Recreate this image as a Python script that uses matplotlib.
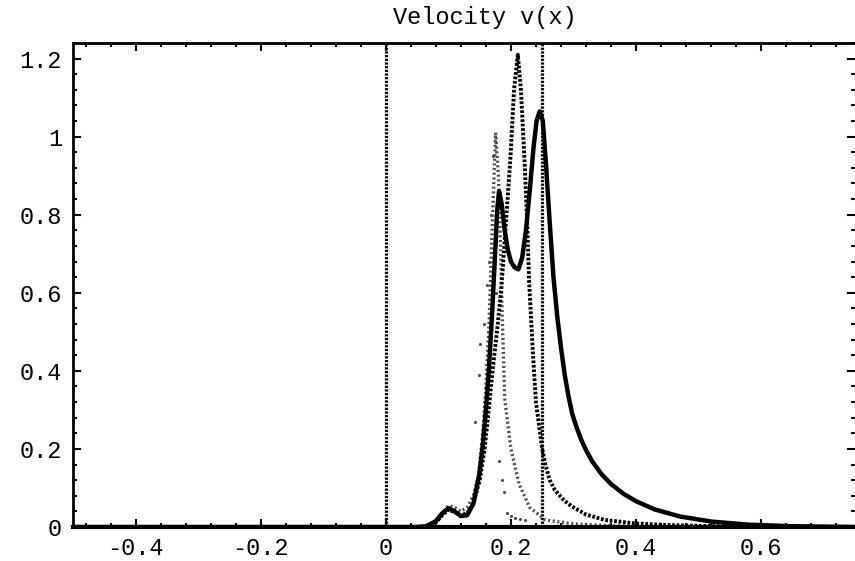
import numpy as np
import matplotlib
matplotlib.use("Agg")
import matplotlib.pyplot as plt
from matplotlib.ticker import MultipleLocator

matplotlib.rc('font', family='Liberation Mono', size=17)

# thick solid curve
x_thick = [-0.5, 0.0, 0.05, 0.065, 0.08, 0.09, 0.1, 0.11, 0.12, 0.13, 0.14, 0.15,
           0.155, 0.16, 0.165, 0.17, 0.175, 0.178, 0.181, 0.185, 0.19, 0.195, 0.2,
           0.206, 0.212, 0.218, 0.224, 0.23, 0.236, 0.241, 0.246, 0.251, 0.256,
           0.262, 0.268, 0.274, 0.28, 0.286, 0.292, 0.298, 0.305, 0.312, 0.32,
           0.33, 0.345, 0.36, 0.38, 0.4, 0.43, 0.47, 0.52, 0.58, 0.65, 0.75]
v_thick = [0.0, 0.0, 0.0, 0.002, 0.015, 0.035, 0.048, 0.04, 0.028, 0.03, 0.06, 0.14,
           0.21, 0.3, 0.41, 0.55, 0.71, 0.81, 0.86, 0.83, 0.76, 0.71, 0.68,
           0.665, 0.66, 0.69, 0.76, 0.86, 0.97, 1.04, 1.065, 1.04, 0.93,
           0.78, 0.64, 0.54, 0.46, 0.39, 0.335, 0.29, 0.255, 0.225, 0.197,
           0.168, 0.135, 0.11, 0.085, 0.066, 0.045, 0.027, 0.014, 0.006, 0.002, 0.0]

# dark dotted curve
x_dark = [0.0, 0.06, 0.08, 0.09, 0.1, 0.11, 0.12, 0.13, 0.14, 0.15, 0.158, 0.165,
          0.172, 0.179, 0.185, 0.192, 0.199, 0.205, 0.211, 0.216, 0.222, 0.226,
          0.229, 0.235, 0.24, 0.25, 0.255, 0.262, 0.27, 0.285, 0.298, 0.32, 0.35,
          0.4, 0.45, 0.5, 0.6]
v_dark = [0.0, 0.0, 0.012, 0.03, 0.045, 0.038, 0.03, 0.035, 0.06, 0.12, 0.2, 0.31,
          0.42, 0.52, 0.62, 0.78, 0.94, 1.12, 1.21, 1.12, 0.93, 0.78,
          0.63, 0.45, 0.32, 0.2, 0.16, 0.12, 0.095, 0.068, 0.052, 0.032, 0.018,
          0.009, 0.005, 0.003, 0.0]

# grey dotted curve
x_grey = [0.0, 0.07, 0.085, 0.1, 0.11, 0.12, 0.13, 0.14, 0.148, 0.155, 0.16, 0.165,
          0.17, 0.1755, 0.18, 0.183, 0.186, 0.19, 0.2, 0.213, 0.23, 0.255, 0.3,
          0.35, 0.4, 0.5]
v_grey = [0.0, 0.0, 0.02, 0.055, 0.05, 0.04, 0.05, 0.08, 0.13, 0.24, 0.36, 0.52,
          0.76, 1.01, 0.9, 0.74, 0.55, 0.33, 0.2, 0.11, 0.05, 0.018, 0.008,
          0.004, 0.002, 0.0]

# sparse light dots
x_sparse = [0.143, 0.149, 0.151, 0.157, 0.162, 0.165, 0.168, 0.172, 0.176, 0.181,
            0.185, 0.189, 0.194, 0.2, 0.207, 0.215, 0.223]
v_sparse = [0.27, 0.39, 0.47, 0.52, 0.62, 0.68, 0.8, 0.95, 0.6, 0.17,
            0.12, 0.09, 0.035, 0.028, 0.022, 0.02, 0.018]

vlines = [0.0, 0.25]

fig = plt.figure(figsize=(8.55, 5.61), dpi=100)
ax = fig.add_axes([0.0854, 0.0606, 0.9146, 0.8628])

for xv in vlines:
    ax.axvline(xv, color='black', lw=2.3, linestyle=(0, (0.7, 0.45)))

ax.plot(x_sparse, v_sparse, linestyle='none', marker='.', ms=2.5, color='0.3')
ax.plot(x_grey, v_grey, color='0.3', lw=2.4, linestyle=(0, (0.6, 0.8)))
ax.plot(x_dark, v_dark, color='black', lw=2.8, linestyle=(0, (0.7, 0.45)))
ax.plot(x_thick, v_thick, color='black', lw=3.2, solid_capstyle='round')

ax.set_xlim(-0.5, 0.75)
ax.set_ylim(0, 1.24)
ax.xaxis.set_minor_locator(MultipleLocator(0.04))
ax.yaxis.set_minor_locator(MultipleLocator(0.04))
ax.set_xticks([-0.4, -0.2, 0, 0.2, 0.4, 0.6])
ax.set_xticklabels(['-0.4', '-0.2', '0', '0.2', '0.4', '0.6'])
ax.set_yticks([0, 0.2, 0.4, 0.6, 0.8, 1.0, 1.2])
ax.set_yticklabels(['0', '0.2', '0.4', '0.6', '0.8', '1', '1.2'])
ax.tick_params(which='both', direction='in', top=True, right=True, width=1.5)
ax.tick_params(which='major', length=6, pad=8)
ax.tick_params(axis='x', which='major', pad=7)
ax.tick_params(which='minor', length=3)

for s in ['left', 'top']:
    ax.spines[s].set_linewidth(2)
ax.spines['bottom'].set_linewidth(3)
ax.spines['right'].set_visible(False)

fig.text(0.567, 0.968, 'Velocity v(x)', ha='center', va='center', fontsize=17)

fig.savefig('out.png', dpi=100)
